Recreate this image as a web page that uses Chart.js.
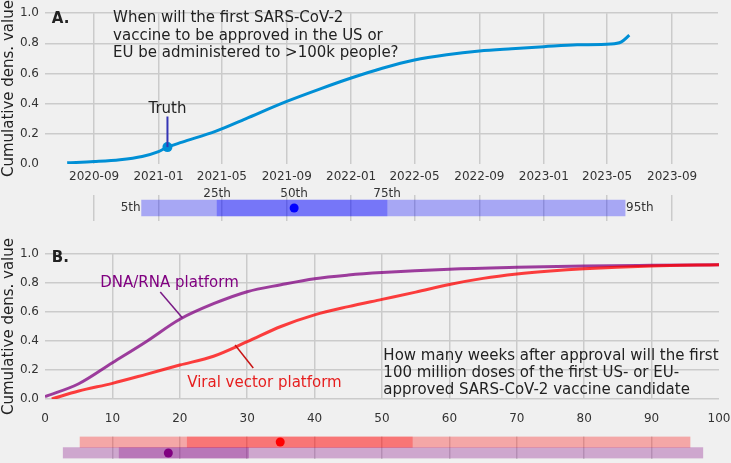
<!DOCTYPE html>
<html>
<head>
<meta charset="utf-8">
<script src="https://cdn.jsdelivr.net/npm/chart.js@4.4.1/dist/chart.umd.min.js"></script>
<style>
  html, body { margin: 0; padding: 0; background: #f0f0f0; overflow: hidden; }
  #wrap { position: relative; width: 731px; height: 463px; }
  canvas { position: absolute; left: 0; top: 0; }
</style>
</head>
<body>
<div id="wrap">
  <canvas id="panelA" width="731" height="463"></canvas>
  <canvas id="stripA" width="731" height="463"></canvas>
  <canvas id="panelB" width="731" height="463"></canvas>
  <canvas id="stripB" width="731" height="463"></canvas>
</div>
<script>
// ---- panel A: first approved vaccine given to >100k people ----
const aDates = ["2020-07-12", "2020-09-01", "2020-10-20", "2020-12-01", "2021-01-01", "2021-01-18",
  "2021-02-15", "2021-04-20", "2021-06-15", "2021-09-01", "2021-11-01", "2022-01-01", "2022-03-01",
  "2022-05-01", "2022-07-01", "2022-09-01", "2022-11-01", "2023-01-01", "2023-03-05", "2023-05-08",
  "2023-05-28", "2023-06-12"]
const aValues = [0.008, 0.016, 0.028, 0.05, 0.082, 0.112,
  0.145, 0.218, 0.3, 0.415, 0.495, 0.57, 0.635,
  0.69, 0.725, 0.75, 0.765, 0.778, 0.79, 0.795,
  0.81, 0.854]
const truthDate = "2021-01-18"
const truthValue = 0.112
const aTickDates = ["2020-09-01", "2021-01-01", "2021-05-01", "2021-09-01", "2022-01-01",
  "2022-05-01", "2022-09-01", "2023-01-01", "2023-05-01", "2023-09-01"]
const aTickLabels = ["2020-09", "2021-01", "2021-05", "2021-09", "2022-01",
  "2022-05", "2022-09", "2023-01", "2023-05", "2023-09"]
const pctNames = ["5th", "25th", "50th", "75th", "95th"]
const aPctDates = ["2020-11-30", "2021-04-22", "2021-09-15", "2022-03-10", "2023-06-04"]

// ---- panel B: weeks after approval until 100M doses ----
const dnaWeeks = [0, 5, 10, 15, 20, 25, 30, 35, 40, 45, 50, 60, 70, 80, 90, 100]
const dnaValues = [0.016, 0.105, 0.25, 0.395, 0.55, 0.657, 0.74, 0.788, 0.83, 0.855, 0.872, 0.895, 0.908, 0.917, 0.922, 0.926]
const viralWeeks = [1, 5, 10, 15, 20, 25, 30, 35, 40, 45, 50, 55, 60, 65, 70, 75, 80, 90, 100]
const viralValues = [0.0, 0.055, 0.108, 0.17, 0.234, 0.295, 0.395, 0.5, 0.58, 0.637, 0.687, 0.737, 0.79, 0.832, 0.862, 0.883, 0.898, 0.917, 0.926]
const platforms = ["Viral vector platform", "DNA/RNA platform"]
const viralPct = [5.2, 21.1, 34.9, 54.5, 95.7]
const dnaPct = [2.7, 11.0, 18.3, 30.2, 97.6]

const ts = d => Date.parse(d)
const GRID = "#cbcbcb"
const TEXT = "#222"

Chart.defaults.font.family = '"DejaVu Sans", sans-serif'
Chart.defaults.font.size = 12
Chart.defaults.color = "#333"
Chart.defaults.animation = false
Chart.defaults.responsive = false
Chart.defaults.plugins.legend.display = false
Chart.defaults.plugins.tooltip.enabled = false

// draws free text and pointer lines at data coordinates
const notesPlugin = {
  id: "notes",
  afterDatasetsDraw(chart, args, opts) {
    const { ctx } = chart
    const xs = chart.scales.x, ys = chart.scales.y
    ctx.save()
    for (const l of opts.lines || []) {
      ctx.strokeStyle = l.color
      ctx.lineWidth = l.width || 1.5
      ctx.beginPath()
      ctx.moveTo(xs.getPixelForValue(l.x1), ys.getPixelForValue(l.y1))
      ctx.lineTo(xs.getPixelForValue(l.x2), ys.getPixelForValue(l.y2))
      ctx.stroke()
    }
    for (const t of opts.texts || []) {
      ctx.font = t.font || '15px "DejaVu Sans"'
      ctx.fillStyle = t.color || TEXT
      ctx.textAlign = t.align || "left"
      ctx.textBaseline = "middle"
      ctx.fillText(t.text, xs.getPixelForValue(t.x) + (t.dx || 0), ys.getPixelForValue(t.y) + (t.dy || 0))
    }
    ctx.restore()
  }
}

// fixed-size x axis that does not eat into the plot width
const fixedX = h => s => { s.height = h; s.paddingLeft = 0; s.paddingRight = 0 }

const aMin = ts("2020-05-31"), aMax = ts("2023-11-27")

// ---------- panel A ----------
new Chart(document.getElementById("panelA"), {
  type: "line",
  data: {
    datasets: [
      {
        data: aDates.map((d, i) => ({ x: ts(d), y: aValues[i] })),
        borderColor: "#008fd5",
        borderWidth: 3,
        pointRadius: 0,
        cubicInterpolationMode: "monotone",
      },
      {
        data: [{ x: ts(truthDate), y: truthValue }],
        showLine: false,
        pointRadius: 5,
        pointBackgroundColor: "#008fd5",
        pointBorderWidth: 0,
      },
    ],
  },
  options: {
    layout: { padding: { left: 0, top: 11, right: 13, bottom: 463 - 164 - 30 } },
    scales: {
      x: {
        type: "linear",
        min: aMin,
        max: aMax,
        afterBuildTicks: s => { s.ticks = aTickDates.map(d => ({ value: ts(d) })) },
        afterFit: fixedX(30),
        ticks: { callback: (v, i) => aTickLabels[i], padding: 6, maxRotation: 0, autoSkip: false },
        grid: { color: GRID, lineWidth: 1.5, drawTicks: false },
        border: { display: false },
      },
      y: {
        min: 0,
        max: 1,
        afterFit: s => { s.width = 45 },
        ticks: { stepSize: 0.2, callback: v => v.toFixed(1), padding: 6 },
        grid: { color: c => (c.tick.value === 0 ? "transparent" : GRID), lineWidth: 1.5, drawTicks: false },
        border: { display: false },
        title: { display: true, text: "Cumulative dens. value", font: { size: 15 }, color: TEXT, padding: 0 },
      },
    },
    plugins: {
      notes: {
        lines: [{ x1: ts(truthDate), y1: truthValue, x2: ts(truthDate), y2: 0.315, color: "#3535b5", width: 2 }],
        texts: [
          { text: "A.", x: ts("2020-06-13"), y: 0.96, font: 'bold 15px "DejaVu Sans"' },
          { text: "When will the first SARS-CoV-2", x: ts("2020-10-07"), y: 0.965 },
          { text: "vaccine to be approved in the US or", x: ts("2020-10-07"), y: 0.85 },
          { text: "EU be administered to >100k people?", x: ts("2020-10-07"), y: 0.736 },
          { text: "Truth", x: ts(truthDate), y: 0.362, align: "center" },
        ],
      },
    },
  },
  plugins: [notesPlugin],
})

// ---------- percentile strip under A ----------
new Chart(document.getElementById("stripA"), {
  type: "bar",
  data: {
    labels: ["A"],
    datasets: [
      { data: [[ts(aPctDates[0]), ts(aPctDates[4])]], backgroundColor: "rgba(0,0,255,0.3)", barThickness: 16, grouped: false, borderWidth: 0 },
      { data: [[ts(aPctDates[1]), ts(aPctDates[3])]], backgroundColor: "rgba(0,0,255,0.3)", barThickness: 16, grouped: false, borderWidth: 0 },
      { type: "line", data: [{ x: ts(aPctDates[2]), y: "A" }], showLine: false, pointRadius: 4.5, pointBackgroundColor: "#0000ff", pointBorderWidth: 0 },
    ],
  },
  options: {
    indexAxis: "y",
    layout: { padding: { left: 45, top: 195, right: 13, bottom: 463 - 221 } },
    scales: {
      x: {
        type: "linear",
        min: aMin,
        max: aMax,
        afterBuildTicks: s => { s.ticks = aTickDates.map(d => ({ value: ts(d) })) },
        afterFit: fixedX(0),
        ticks: { display: false },
        grid: { color: GRID, lineWidth: 1.5, drawTicks: false },
        border: { display: false },
      },
      y: { display: false },
    },
    plugins: {
      notes: {
        texts: [
          { text: pctNames[0], x: ts(aPctDates[0]), y: 0, align: "right", dx: -1, font: '12px "DejaVu Sans"', color: "#333" },
          { text: pctNames[1], x: ts(aPctDates[1]), y: 0, align: "center", dy: -14, font: '12px "DejaVu Sans"', color: "#333" },
          { text: pctNames[2], x: ts(aPctDates[2]), y: 0, align: "center", dy: -14, font: '12px "DejaVu Sans"', color: "#333" },
          { text: pctNames[3], x: ts(aPctDates[3]), y: 0, align: "center", dy: -14, font: '12px "DejaVu Sans"', color: "#333" },
          { text: pctNames[4], x: ts(aPctDates[4]), y: 0, align: "left", dx: 1, font: '12px "DejaVu Sans"', color: "#333" },
        ],
      },
    },
  },
  plugins: [notesPlugin],
})

// ---------- panel B ----------
new Chart(document.getElementById("panelB"), {
  type: "line",
  data: {
    datasets: [
      {
        data: viralWeeks.map((w, i) => ({ x: w, y: viralValues[i] })),
        borderColor: "rgba(255,0,0,0.75)",
        borderWidth: 3,
        pointRadius: 0,
        cubicInterpolationMode: "monotone",
      },
      {
        data: dnaWeeks.map((w, i) => ({ x: w, y: dnaValues[i] })),
        borderColor: "rgba(128,0,128,0.75)",
        borderWidth: 3,
        pointRadius: 0,
        cubicInterpolationMode: "monotone",
      },
    ],
  },
  options: {
    layout: { padding: { left: 0, top: 254, right: 12, bottom: 463 - 399 - 30 } },
    scales: {
      x: {
        type: "linear",
        min: 0,
        max: 100,
        afterFit: fixedX(30),
        ticks: { stepSize: 10, padding: 13, maxRotation: 0 },
        grid: { color: c => (c.tick.value === 0 || c.tick.value === 100 ? "transparent" : GRID), lineWidth: 1.5, drawTicks: false },
        border: { display: false },
      },
      y: {
        min: 0,
        max: 1,
        afterFit: s => { s.width = 45 },
        ticks: { stepSize: 0.2, callback: v => v.toFixed(1), padding: 6 },
        grid: { color: GRID, lineWidth: 1.5, drawTicks: false },
        border: { display: false },
        title: { display: true, text: "Cumulative dens. value", font: { size: 15 }, color: TEXT, padding: 0 },
      },
    },
    plugins: {
      notes: {
        lines: [
          { x1: 17.1, y1: 0.738, x2: 20.4, y2: 0.559, color: "#7a1a86", width: 1.5 },
          { x1: 28.2, y1: 0.372, x2: 30.9, y2: 0.214, color: "#c81414", width: 1.5 },
        ],
        texts: [
          { text: "B.", x: 1.0, y: 0.972, font: 'bold 15px "DejaVu Sans"' },
          { text: platforms[1], x: 8.2, y: 0.8, color: "#800080" },
          { text: platforms[0], x: 21.1, y: 0.11, color: "#e61e1e" },
          { text: "How many weeks after approval will the first", x: 50.2, y: 0.297 },
          { text: "100 million doses of the first US- or EU-", x: 50.2, y: 0.179 },
          { text: "approved SARS-CoV-2 vaccine candidate", x: 50.2, y: 0.062 },
        ],
      },
    },
  },
  plugins: [notesPlugin],
})

// ---------- percentile strips under B ----------
new Chart(document.getElementById("stripB"), {
  type: "bar",
  data: {
    labels: platforms,
    datasets: [
      {
        data: [[viralPct[0], viralPct[4]], [dnaPct[0], dnaPct[4]]],
        backgroundColor: ["rgba(255,0,0,0.3)", "rgba(128,0,128,0.3)"],
        barPercentage: 1, categoryPercentage: 1, grouped: false, borderWidth: 0,
      },
      {
        data: [[viralPct[1], viralPct[3]], [dnaPct[1], dnaPct[3]]],
        backgroundColor: ["rgba(255,0,0,0.3)", "rgba(128,0,128,0.3)"],
        barPercentage: 1, categoryPercentage: 1, grouped: false, borderWidth: 0,
      },
      {
        type: "line",
        data: [{ x: viralPct[2], y: platforms[0] }, { x: dnaPct[2], y: platforms[1] }],
        showLine: false,
        pointRadius: 4.5,
        pointBackgroundColor: ["#ff0000", "#800080"],
        pointBorderWidth: 0,
      },
    ],
  },
  options: {
    indexAxis: "y",
    layout: { padding: { left: 45, top: 436.5, right: 12, bottom: 0 } },
    scales: {
      x: {
        type: "linear",
        min: 0,
        max: 100,
        afterFit: fixedX(0),
        ticks: { stepSize: 10, display: false },
        grid: { color: c => (c.tick.value === 0 || c.tick.value === 100 ? "transparent" : GRID), lineWidth: 1.5, drawTicks: false },
        border: { display: false },
      },
      y: { display: false },
    },
  },
})
</script>
</body>
</html>
